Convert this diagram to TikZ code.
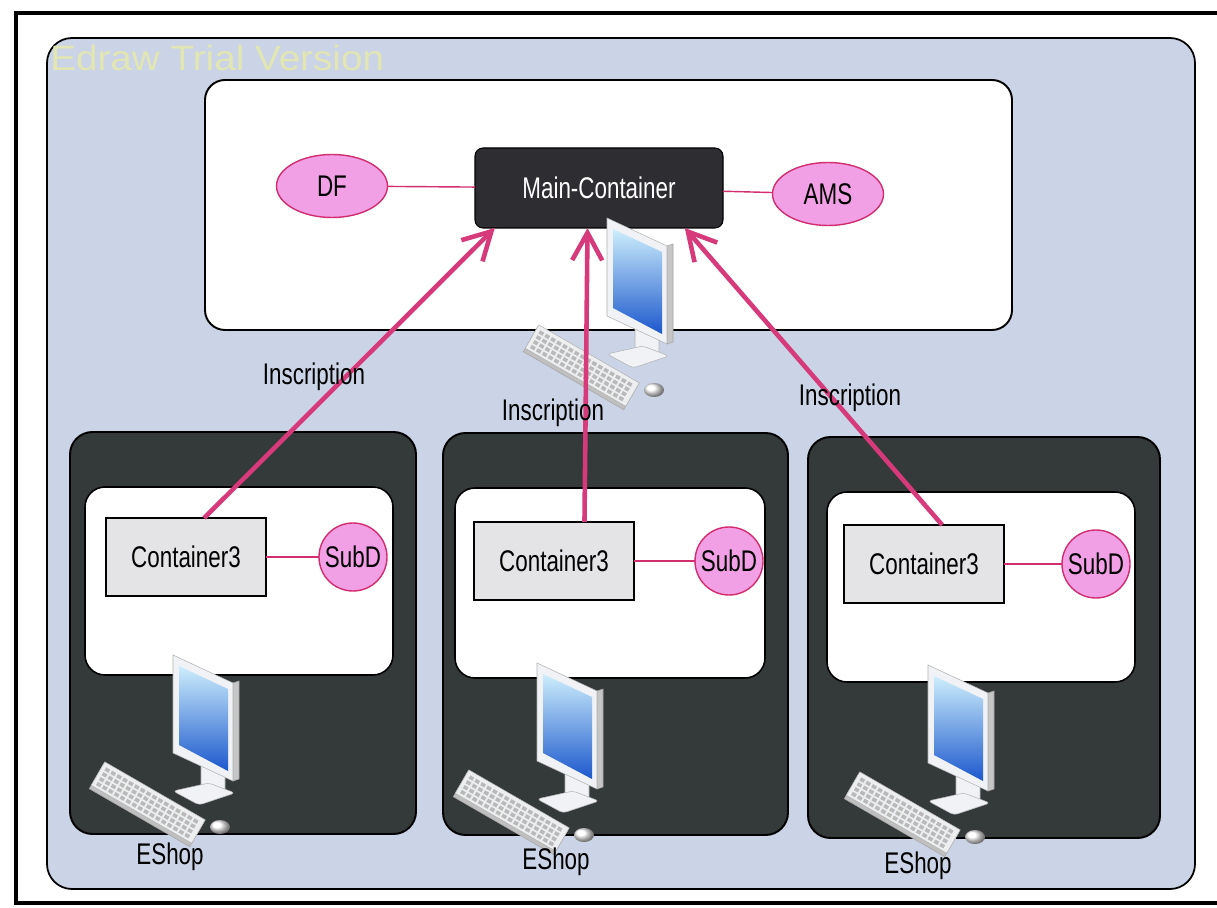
\documentclass[tikz,border=0pt]{standalone}
\usepackage{fontspec}
\usepackage{tikz}
\usetikzlibrary{shapes.geometric,arrows.meta}
\setmainfont{Liberation Sans}
\newfontfamily\labelFont{Liberation Sans}[FakeStretch=0.75]
\newfontfamily\markFont{Liberation Sans}[FakeStretch=1.1]
\newcommand{\pxUnit}{0.02cm}
\definecolor{panelBlue}{RGB}{202,212,230}
\definecolor{shopDark}{RGB}{52,57,58}
\definecolor{mainDark}{RGB}{46,45,50}
\definecolor{servicePink}{RGB}{242,160,230}
\definecolor{linkPink}{RGB}{210,45,110}
\definecolor{arrowPink}{RGB}{214,58,122}
\definecolor{boxGray}{RGB}{228,228,231}
\definecolor{markYellow}{RGB}{226,230,178}
\definecolor{standWhite}{RGB}{240,242,245}
\definecolor{keyWhite}{RGB}{236,238,240}
\definecolor{screenTop}{RGB}{205,238,252}
\definecolor{screenBottom}{RGB}{28,88,205}

% desktop computer: monitor, stand, keyboard and mouse
\newcommand{\drawComputer}[2]{%
  \begin{scope}[shift={(#1,#2)}]
    \filldraw[fill=standWhite, draw=gray!60, line width=0.3pt] (28,108) -- (52,118) -- (52,140) -- (28,132) -- cycle;
    \filldraw[fill=standWhite, draw=gray!60, line width=0.3pt, rounded corners=2pt] (0,136) -- (36,128) -- (62,138) -- (26,150) -- cycle;
    \filldraw[fill=gray!45, draw=gray!70, line width=0.3pt] (60,28) -- (66,26) -- (66,124) -- (60,126) -- cycle;
    \filldraw[fill=standWhite, draw=gray!60, line width=0.3pt] (0,0) -- (60,28) -- (60,126) -- (0,98) -- cycle;
    \shade[top color=screenTop, bottom color=screenBottom] (6,11) -- (55,34) -- (55,116) -- (6,90) -- cycle;
    \begin{scope}[shift={(-25,148)}, rotate=-30]
      \filldraw[fill=gray!50, draw=gray!70, line width=0.3pt] (-58,-11) rectangle (58,17);
      \filldraw[fill=keyWhite, draw=gray!60, line width=0.3pt] (-58,-14) rectangle (58,13);
      \foreach \kr in {0,...,3}
        \foreach \kc in {0,...,15}
          \fill[gray!55] (-54+\kc*6.8,-10+\kr*5.6) rectangle ++(4.6,3.6);
    \end{scope}
    \shade[ball color=white] (47,172) ellipse (10 and 7);
  \end{scope}}

\begin{document}
\begin{tikzpicture}[x=\pxUnit, y=-\pxUnit,
    captionText/.style={font=\labelFont\fontsize{17}{19}\selectfont, inner sep=0pt},
    mainBox/.style={rectangle, rounded corners=0.16cm, fill=mainDark, draw=black, line width=0.6pt,
      text=white, minimum width=248*\pxUnit, minimum height=80*\pxUnit, inner sep=0pt, outer sep=0pt,
      font=\labelFont\fontsize{17}{19}\selectfont},
    serviceOval/.style={ellipse, fill=servicePink, draw=linkPink, line width=0.8pt,
      minimum width=111*\pxUnit, minimum height=63*\pxUnit, inner sep=0pt, outer sep=0pt,
      font=\labelFont\fontsize{17}{19}\selectfont},
    containerBox/.style={rectangle, fill=boxGray, draw=black, line width=1.3pt,
      minimum width=160*\pxUnit, minimum height=78*\pxUnit, inner sep=0pt, outer sep=0pt,
      font=\labelFont\fontsize{17}{19}\selectfont},
    subdDisc/.style={circle, fill=servicePink, draw=linkPink, line width=0.8pt,
      minimum size=68*\pxUnit, inner sep=0pt, outer sep=0pt,
      font=\labelFont\fontsize{17}{19}\selectfont},
    plainLink/.style={draw=linkPink, line width=0.8pt},
    regArrow/.style={draw=arrowPink, line width=2.6pt, -{Straight Barb[length=5.5mm,width=6mm]}},
    shopPanel/.style={fill=shopDark, draw=black, line width=1.1pt, rounded corners=0.45cm},
    innerPanel/.style={fill=white, draw=black, line width=0.9pt, rounded corners=0.4cm}]

  \useasboundingbox (0,0) rectangle (1217,908);
  \fill[white] (0,0) rectangle (1217,908);
  \draw[line width=1.8pt] (16,13) rectangle (1232,903);

  % background panel and top host
  \filldraw[fill=panelBlue, draw=black, line width=1pt, rounded corners=0.5cm] (47,38) rectangle (1195,889);
  \node[anchor=west, inner sep=0pt, text=markYellow, font=\markFont\fontsize{20}{22}\selectfont] (mark) at (50,58) {Edraw Trial Version};
  \filldraw[fill=white, draw=black, line width=1.1pt, rounded corners=0.4cm] (205,80) rectangle (1012,330);

  % shop panels
  \filldraw[shopPanel] (70,432) rectangle (416,834);
  \filldraw[innerPanel] (85,487) rectangle (393,675);
  \filldraw[shopPanel] (443,433) rectangle (788,835);
  \filldraw[innerPanel] (455,488) rectangle (765,678);
  \filldraw[shopPanel] (808,437) rectangle (1160,838);
  \filldraw[innerPanel] (827,492) rectangle (1135,682);

  % agents
  \node[mainBox] (main) at (599,188) {Main-Container};
  \node[serviceOval] (df) at (332,186) {DF};
  \node[serviceOval] (ams) at (828,194) {AMS};
  \draw[plainLink] (df) -- (main);
  \draw[plainLink] (main) -- (ams);

  \node[containerBox] (c1) at (186,557) {Container3};
  \node[subdDisc] (s1) at (353,557) {SubD};
  \node[containerBox] (c2) at (554,561) {Container3};
  \node[subdDisc] (s2) at (729,561) {SubD};
  \node[containerBox] (c3) at (924,564) {Container3};
  \node[subdDisc] (s3) at (1096,564) {SubD};
  \draw[plainLink] (c1) -- (s1);
  \draw[plainLink] (c2) -- (s2);
  \draw[plainLink] (c3) -- (s3);

  % computers
  \drawComputer{607}{218}
  \drawComputer{173}{655}
  \drawComputer{537}{663}
  \drawComputer{928}{665}

  % registrations
  \draw[regArrow] (c1.65) -- (main.201);
  \draw[regArrow] (c2.52) -- (main.254);
  \draw[regArrow] (c3.65) -- (main.335);

  \node[captionText] (ins1) at (314,377) {Inscription};
  \node[captionText] (ins2) at (553,413) {Inscription};
  \node[captionText] (ins3) at (850,398) {Inscription};
  \node[captionText] (shop1) at (170,857) {EShop};
  \node[captionText] (shop2) at (556,862) {EShop};
  \node[captionText] (shop3) at (918,866) {EShop};
\end{tikzpicture}
\end{document}
